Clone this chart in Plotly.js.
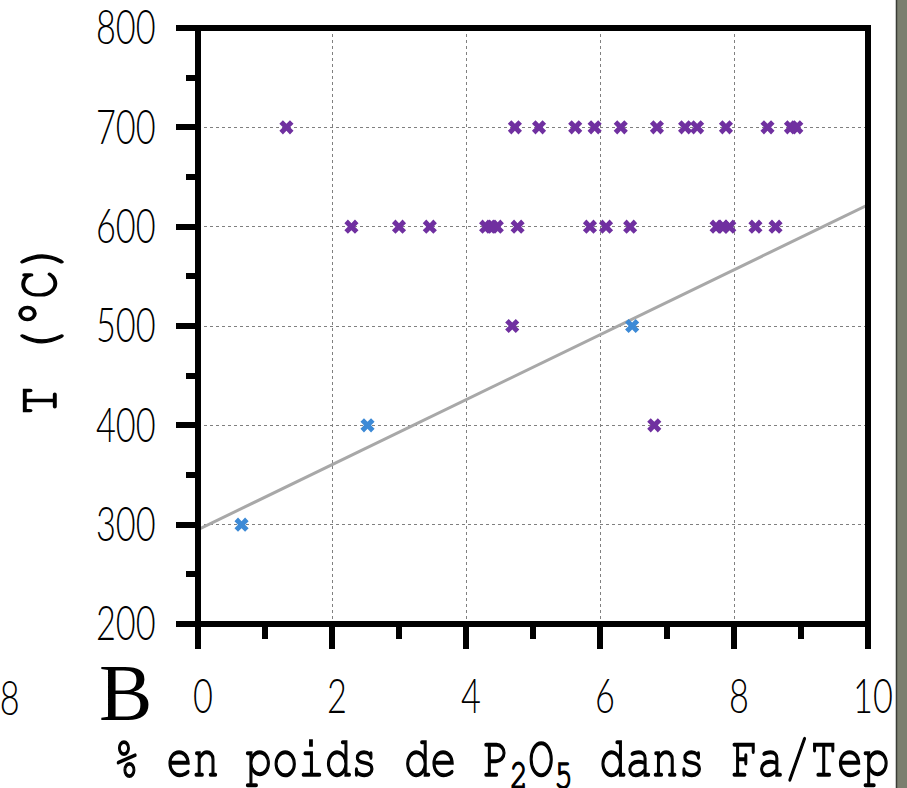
<!DOCTYPE html>
<html>
<head>
<meta charset="utf-8">
<script src="https://cdn.plot.ly/plotly-3.0.1.min.js"></script>
<style>
  html, body { margin: 0; padding: 0; background: #ffffff; }
  #chart { width: 907px; height: 788px; }
</style>
</head>
<body>
<div id="chart"></div>
<script>
// ---- data ----
const purpleX = [1.32, 4.73, 5.09, 5.63, 5.92, 6.31, 6.85, 7.27, 7.45, 7.88, 8.50, 8.85, 8.93,
                 2.29, 3.00, 3.46, 4.30, 4.38, 4.46, 4.77, 5.85, 6.09, 6.45, 7.74, 7.83, 7.93, 8.32, 8.62,
                 4.69, 6.81];
const purpleY = [700, 700, 700, 700, 700, 700, 700, 700, 700, 700, 700, 700, 700,
                 600, 600, 600, 600, 600, 600, 600, 600, 600, 600, 600, 600, 600, 600, 600,
                 500, 400];
const blueX = [0.65, 2.53, 6.48];
const blueY = [300, 400, 500];
const trendX = [0, 10];
const trendY = [295, 622];
const xTickVals = [0, 2, 4, 6, 8, 10];
const xTickText = ['0', '2', '4', '6', '8', '10'];
const yTickVals = [200, 300, 400, 500, 600, 700, 800];
const yTickText = ['200', '300', '400', '500', '600', '700', '800'];
const xTitle = '% en poids de P<sub>2</sub>O<sub>5</sub> dans Fa/Tep';
const yTitle = 'T (°C)';
const panelLetter = 'B';
const neighbourLabel = '8';

const numFont = 'Lato, "Open Sans", sans-serif';
const monoFont = 'FreeMono, "DejaVu Sans Mono", monospace';

const traces = [
  {
    x: trendX, y: trendY, type: 'scatter', mode: 'lines',
    line: { color: '#a8a8a8', width: 3 }, hoverinfo: 'skip', showlegend: false
  },
  {
    x: purpleX, y: purpleY, type: 'scatter', mode: 'markers',
    marker: { symbol: 'x', size: 12.5, color: '#7030a0', line: { width: 0 } },
    showlegend: false
  },
  {
    x: blueX, y: blueY, type: 'scatter', mode: 'markers',
    marker: { symbol: 'x', size: 12.5, color: '#3d8ad6', line: { width: 0 } },
    showlegend: false
  }
];

const tickFont = { family: numFont, weight: 300, size: 47, color: '#000' };

const layout = {
  width: 907, height: 788,
  margin: { l: 198, r: 39, t: 28, b: 164, pad: 0 },
  paper_bgcolor: '#ffffff', plot_bgcolor: '#ffffff',
  showlegend: false,
  xaxis: {
    range: [0, 10], tickmode: 'array', tickvals: xTickVals, ticktext: xTickText,
    ticks: 'outside', ticklen: 24, tickwidth: 6, tickcolor: '#000',
    showgrid: true, gridcolor: '#808080', griddash: 'dot', gridwidth: 1,
    zeroline: false, showline: false,
    tickfont: tickFont, ticklabeloverflow: 'allow',
    ticklabelshift: 5, ticklabelstandoff: 8,
    minor: { dtick: 1, tick0: 0, ticks: 'outside', ticklen: 14, tickwidth: 6, tickcolor: '#000', showgrid: false }
  },
  yaxis: {
    range: [200, 800], tickmode: 'array', tickvals: yTickVals, ticktext: yTickText,
    ticks: 'outside', ticklen: 21, tickwidth: 6, tickcolor: '#000',
    showgrid: true, gridcolor: '#808080', griddash: 'dot', gridwidth: 1,
    zeroline: false, showline: false,
    tickfont: tickFont, ticklabeloverflow: 'allow',
    ticklabelstandoff: 11,
    minor: { dtick: 50, tick0: 0, ticks: 'outside', ticklen: 11, tickwidth: 6, tickcolor: '#000', showgrid: false }
  },
  shapes: [
    { type: 'rect', xref: 'paper', yref: 'paper', x0: 0, x1: 1, y0: 0, y1: 1,
      line: { color: '#000', width: 6 }, fillcolor: 'rgba(0,0,0,0)', layer: 'above' },
    { type: 'rect', xref: 'paper', yref: 'paper', x0: 1.0425, x1: 1.08, y0: -0.35, y1: 1.1,
      line: { color: '#3b3d36', width: 1.5 }, fillcolor: '#7b7f6f', layer: 'above' }
  ],
  annotations: [
    { text: xTitle, xref: 'paper', yref: 'paper', x: 0.4537, y: -0.234,
      xanchor: 'center', yanchor: 'middle', showarrow: false,
      font: { family: monoFont, size: 58, color: '#000' } },
    { text: yTitle, xref: 'paper', yref: 'paper', x: -0.236, y: 0.4975, textangle: -90,
      xanchor: 'center', yanchor: 'middle', showarrow: false,
      font: { family: monoFont, size: 58, color: '#000' } },
    { text: panelLetter, xref: 'paper', yref: 'paper', x: -0.108, y: -0.115,
      xanchor: 'center', yanchor: 'middle', showarrow: false,
      font: { family: '"Liberation Serif", "DejaVu Serif", serif', size: 80, color: '#000' } },
    { text: neighbourLabel, xref: 'paper', yref: 'paper', x: -0.2813, y: -0.123,
      xanchor: 'center', yanchor: 'middle', showarrow: false,
      font: tickFont }
  ]
};

function squeeze(el, target) {
  el.setAttribute('textLength', target);
  el.setAttribute('lengthAdjust', 'spacingAndGlyphs');
}

Plotly.newPlot('chart', traces, layout, { displayModeBar: false, staticPlot: true }).then(function (gd) {
  // narrow the light numerals like the reference face
  gd.querySelectorAll('.xtick text, .ytick text').forEach(function (t) {
    squeeze(t, t.getComputedTextLength() * 0.73);
  });
  const anns = gd.querySelectorAll('.annotation-text');
  [0, 1].forEach(function (i) {
    if (!anns[i]) return;
    squeeze(anns[i], i === 0 ? 776 : 174);
    anns[i].style.stroke = '#000';
    anns[i].style.strokeWidth = '1.6px';
  });
  if (anns[3]) squeeze(anns[3], anns[3].getComputedTextLength() * 0.73);
});
</script>
</body>
</html>
